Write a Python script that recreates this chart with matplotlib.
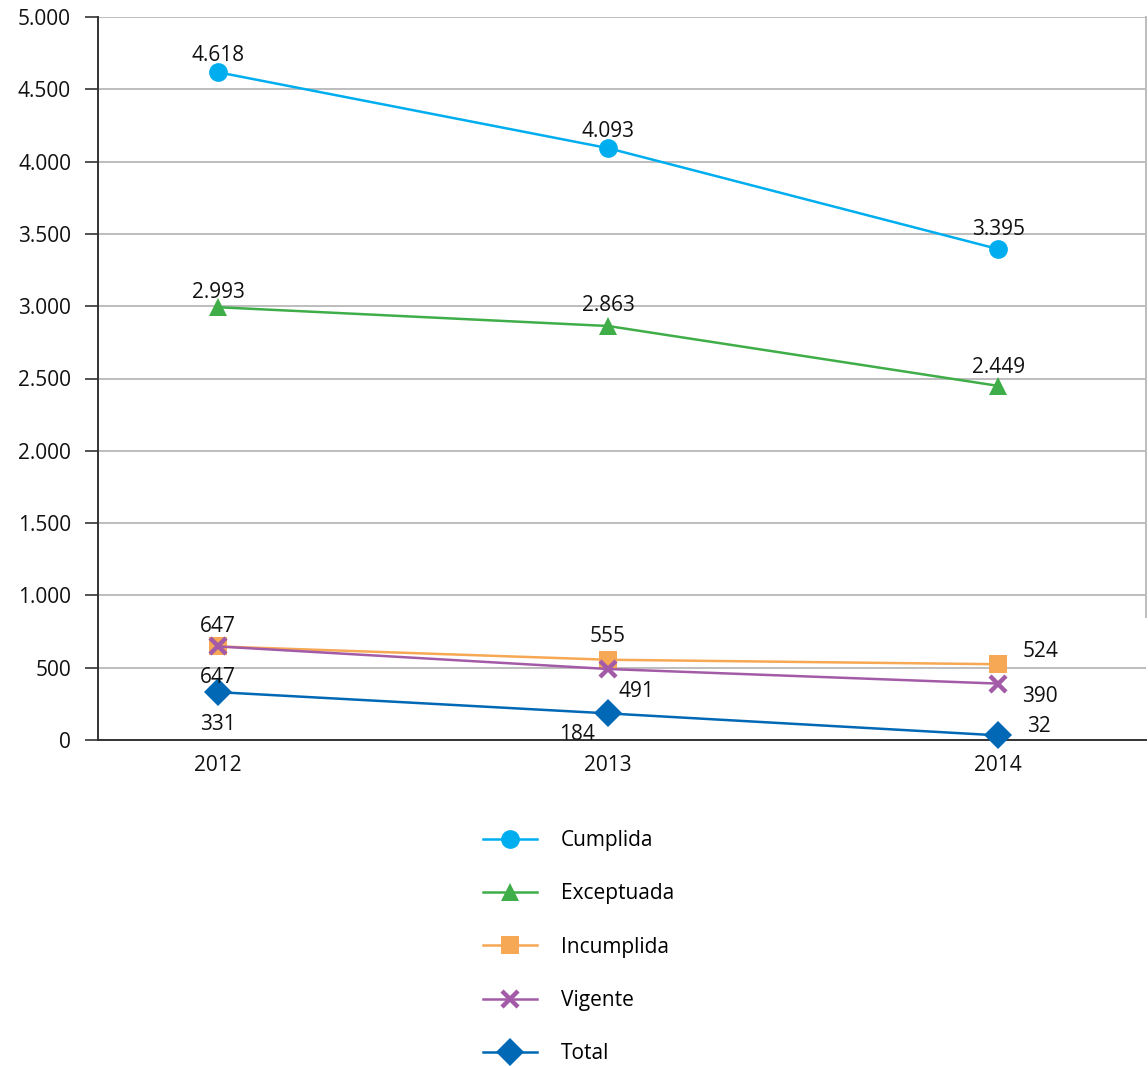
import matplotlib
matplotlib.use("Agg")
import matplotlib.pyplot as plt
from matplotlib.ticker import FuncFormatter

plt.rcParams['font.family'] = ['Open Sans', 'DejaVu Sans']

years = ["2012", "2013", "2014"]
cumplida = [4618, 4093, 3395]
exceptuada = [2993, 2863, 2449]
incumplida = [647, 555, 524]
vigente = [647, 491, 390]
total = [331, 184, 32]

series_names = ["Cumplida", "Exceptuada", "Incumplida", "Vigente", "Total"]
series_values = [cumplida, exceptuada, incumplida, vigente, total]
colors = ["#00AEEF", "#3FAE49", "#F7A854", "#A35BA8", "#0068B4"]
markers = ["o", "^", "s", "x", "D"]
msizes = [13.5, 13.5, 13.5, 12, 14]

# label offsets in pixels (dx, dy) for each point
label_offsets = [
    [(0, 11), (0, 11), (0, 14)],
    [(0, 9), (0, 15), (0, 13)],
    [(0, 14), (0, 18), (42, 7)],
    [(0, -37), (28, -28), (42, -18)],
    [(0, -38), (-31, -27), (41, 3)],
]

FS = 15
W, H = 1148, 1066
fig = plt.figure(figsize=(W / 100, H / 100), dpi=100)
ax = fig.add_axes([98 / W, 1 - 740 / H, (1146 - 98) / W, (740 - 17) / H])

x = list(range(len(years)))
for name, vals, c, m, ms, offs in zip(series_names, series_values, colors,
                                      markers, msizes, label_offsets):
    kw = dict(color=c, lw=1.8, marker=m, markersize=ms, label=name,
              zorder=3, clip_on=False)
    if m == "x":
        kw.update(markeredgewidth=3.2)
    else:
        kw.update(markeredgewidth=0)
    ax.plot(x, vals, **kw)
    for xi, v, (dx, dy) in zip(x, vals, offs):
        ax.annotate(f"{v:,}".replace(",", "."), (xi, v), xytext=(dx, dy),
                    textcoords="offset pixels", ha="center", va="baseline",
                    fontsize=FS, color="#111111", zorder=5)

ax.set_xlim(-0.3077, 2.379)
ax.set_ylim(0, 5000)
ax.set_yticks(range(0, 5001, 500))
ax.yaxis.set_major_formatter(FuncFormatter(lambda v, p: f"{int(v):,}".replace(",", ".")))
ax.set_xticks(x)
ax.set_xticklabels(years)

ax.grid(axis="y", color="#BDBDBD", lw=1.4, zorder=0)
ax.set_axisbelow(True)
for s in ["top", "right"]:
    ax.spines[s].set_visible(False)
for s in ["left", "bottom"]:
    ax.spines[s].set_color("#333333")
    ax.spines[s].set_linewidth(1.4)
ax.plot([1, 1], [850 / 5000, 1], transform=ax.transAxes, color="#BDBDBD",
        lw=1.4, clip_on=False, zorder=1)

ax.tick_params(axis="y", length=9.4, width=1.2, color="#333333", pad=10,
               labelsize=FS, labelcolor="#111111")
ax.tick_params(axis="x", length=0, pad=11, labelsize=FS, labelcolor="#111111")

fig.legend(loc="upper left", bbox_to_anchor=(483 / W, 1 - 830 / H),
           frameon=False, fontsize=FS, handlelength=2.6, handletextpad=1.15,
           labelspacing=1.55, borderpad=0, borderaxespad=0)

fig.savefig("out.png", dpi=100)
